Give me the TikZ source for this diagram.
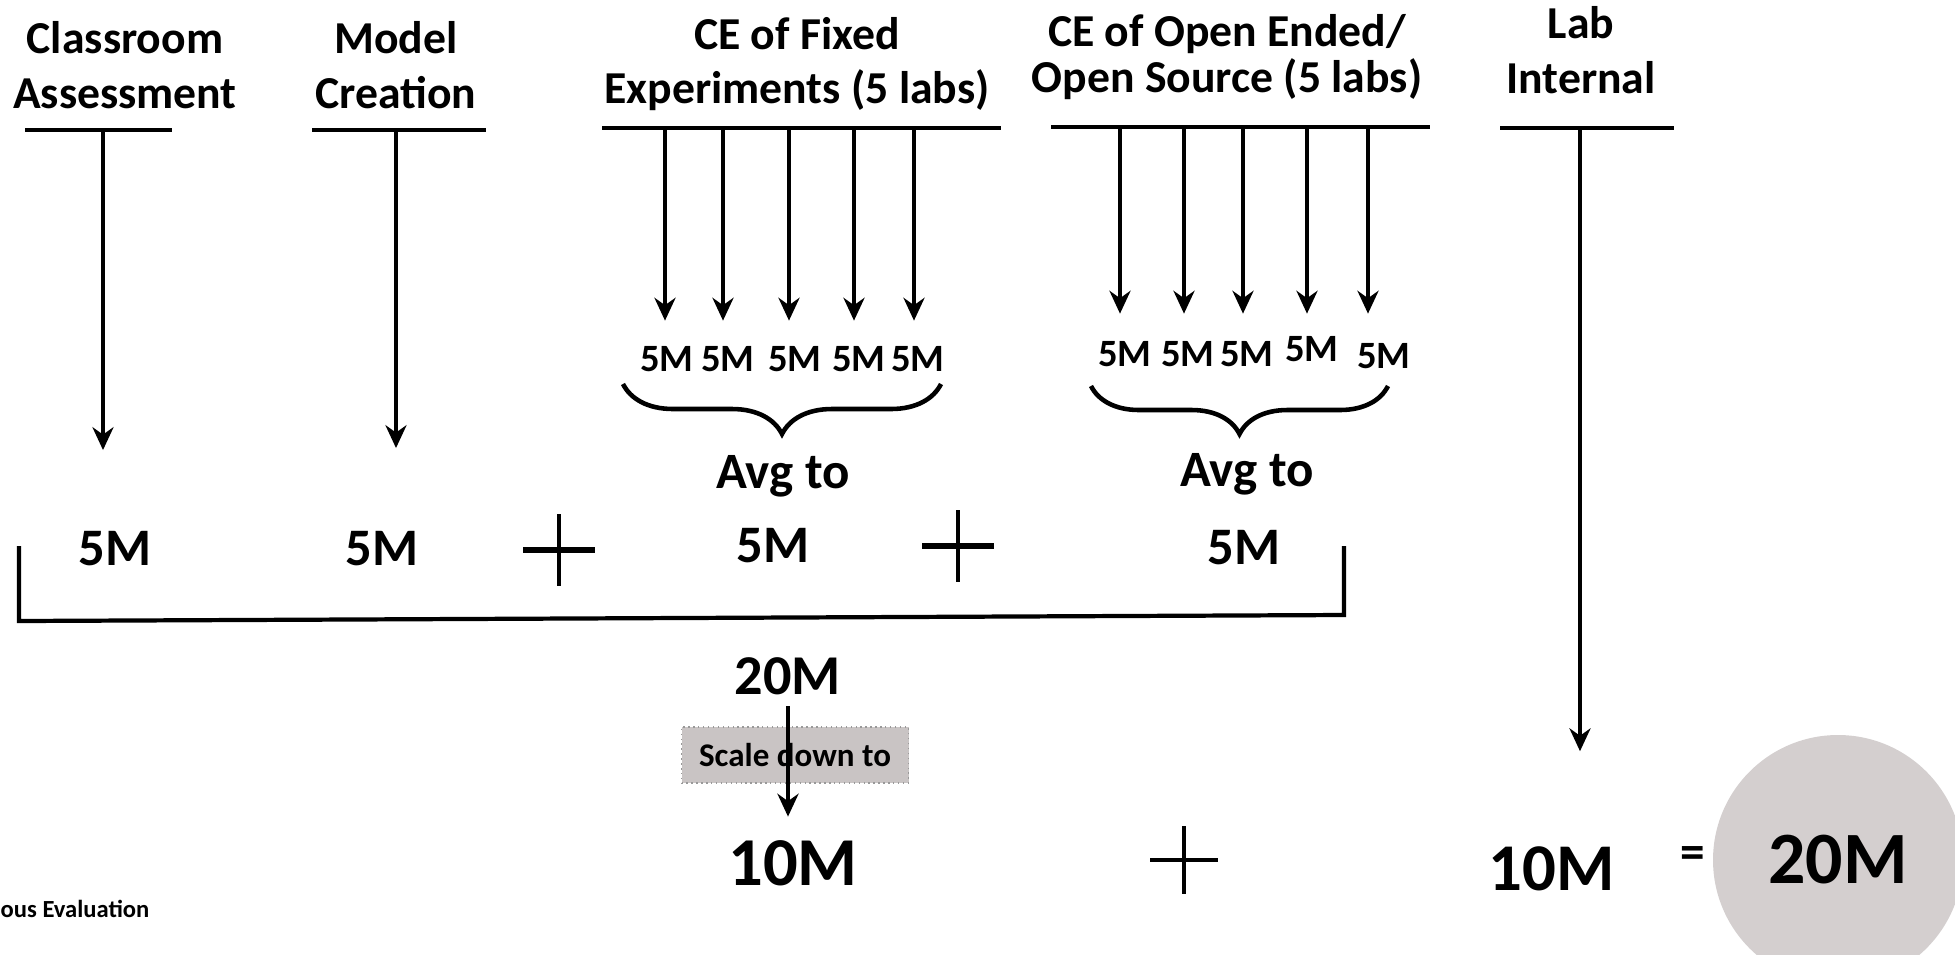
\documentclass[tikz,border=0pt]{standalone}
\usepackage{fontspec}
\setmainfont{Carlito}
\usepackage{tikz}
\usetikzlibrary{arrows.meta, decorations.pathreplacing, calc}
\definecolor{boxgray}{HTML}{C9C4C4}
\definecolor{circlegray}{HTML}{D4CFCF}
\tikzset{
	headnode/.style={
			align=center,
			inner sep=0pt,
			font=\fontsize{13}{15.5}\selectfont\bfseries
		},
	marknode/.style={
			inner sep=0pt,
			font=\fontsize{11}{13}\selectfont\bfseries
		},
	valuenode/.style={
			inner sep=0pt,
			font=\fontsize{15}{18}\selectfont\bfseries
		},
	bignode/.style={
			inner sep=0pt,
			font=\fontsize{19.5}{23}\selectfont\bfseries
		},
	plusnode/.style={
			shape=rectangle,
			minimum width=7mm,
			minimum height=7mm,
			inner sep=0pt
		},
	scalenode/.style={
			shape=rectangle,
			fill=boxgray,
			draw=gray!80,
			densely dotted,
			minimum width=22.7mm,
			minimum height=5.6mm,
			inner sep=0pt,
			font=\fontsize{9.4}{11}\selectfont\bfseries
		},
	totalnode/.style={
			circle,
			fill=circlegray,
			minimum size=25mm,
			inner sep=0pt,
			font=\fontsize{21}{25}\selectfont\bfseries
		}
}
\tikzset{
	bar/.style={line width=1.4pt},
	downarrow/.style={line width=1pt, -{Stealth[length=6.5pt,width=6pt]}},
	plusline/.style={line width=0.9pt},
	bracestyle/.style={line width=1.3pt, decorate, decoration={brace, amplitude=#1}}
}

\begin{document}
\begin{tikzpicture}[x=0.1mm, y=-0.1mm]
  \useasboundingbox (0,0) rectangle (1955,954);

  % headings
  \node[headnode] (h1) at (125,65) {Classroom\\Assessment};
  \node[headnode] (h2) at (396,65) {Model\\Creation};
  \node[headnode] (h3) at (797,64) {CE of Fixed\\Experiments (5 labs)};
  \node[headnode] (h4) at (1227,57) {CE of Open Ended/\\[-2.6pt]Open Source (5 labs)};
  \node[headnode] (h5) at (1581,50) {Lab\\Internal};

  % bars under the headings
  \draw[bar] (25,130) -- (172,130);
  \draw[bar] (312,130) -- (486,130);
  \draw[bar] (602,128) -- (1001,128);
  \draw[bar] (1051,127) -- (1430,127);
  \draw[bar] (1500,128) -- (1674,128);

  \coordinate (ca) at (103,130);
  \coordinate (mc) at (396,130);
  \coordinate (fa1) at (665,128);
  \coordinate (fa2) at (723,128);
  \coordinate (fa3) at (789,128);
  \coordinate (fa4) at (854,128);
  \coordinate (fa5) at (914,128);
  \coordinate (oa1) at (1120,127);
  \coordinate (oa2) at (1184,127);
  \coordinate (oa3) at (1243,127);
  \coordinate (oa4) at (1307,127);
  \coordinate (oa5) at (1368,127);
  \coordinate (li) at (1580,128);

  % marks of the labs
  \node[marknode] (f1) at (667,359) {5M};
  \node[marknode] (f2) at (728,359) {5M};
  \node[marknode] (f3) at (795,359) {5M};
  \node[marknode] (f4) at (859,359) {5M};
  \node[marknode] (f5) at (918,359) {5M};

  \node[marknode] (o1) at (1125,354) {5M};
  \node[marknode] (o2) at (1188,354) {5M};
  \node[marknode] (o3) at (1247,354) {5M};
  \node[marknode] (o4) at (1312,349) {5M};
  \node[marknode] (o5) at (1384,356) {5M};

  \draw[downarrow, shorten >=2.5mm] (fa1) -- (fa1 |- f1.north);
  \draw[downarrow, shorten >=2.5mm] (fa2) -- (fa2 |- f2.north);
  \draw[downarrow, shorten >=2.5mm] (fa3) -- (fa3 |- f3.north);
  \draw[downarrow, shorten >=2.5mm] (fa4) -- (fa4 |- f4.north);
  \draw[downarrow, shorten >=2.5mm] (fa5) -- (fa5 |- f5.north);

  \draw[downarrow, shorten >=2.7mm] (oa1) -- (oa1 |- o1.north);
  \draw[downarrow, shorten >=2.7mm] (oa2) -- (oa2 |- o2.north);
  \draw[downarrow, shorten >=2.7mm] (oa3) -- (oa3 |- o3.north);
  \draw[downarrow, shorten >=2.7mm] (oa4) -- (oa4 |- o3.north);
  \draw[downarrow, shorten >=2.7mm] (oa5) -- (oa5 |- o3.north);

  \draw[bracestyle=5mm] (941,384) -- (623,384);
  \draw[bracestyle=4.8mm] (1388,386) -- (1091,386);

  \node[valuenode, font=\fontsize{14.5}{17}\selectfont\bfseries] (avg1) at (783,476) {Avg to};
  \node[valuenode, font=\fontsize{14.5}{17}\selectfont\bfseries] (avg2) at (1247,474) {Avg to};

  % the 20 marks row
  \node[valuenode] (v1) at (115,549) {5M};
  \node[valuenode] (v2) at (382,549) {5M};
  \node[plusnode] (p1) at (559,550) {};
  \node[valuenode] (v3) at (773,546) {5M};
  \node[plusnode] (p2) at (958,546) {};
  \node[valuenode] (v4) at (1244,548) {5M};

  \draw[plusline] (p1.north) -- (p1.south);
  \draw[plusline, line width=1.5pt] (p1.west) -- (p1.east);
  \draw[plusline] (p2.north) -- (p2.south);
  \draw[plusline, line width=1.5pt] (p2.west) -- (p2.east);

  \draw[downarrow, shorten >=8.1mm] (ca) -- (ca |- v1.north);
  \draw[downarrow, shorten >=8.3mm] (mc) -- (mc |- v2.north);

  \draw[bar, line width=1.2pt] (19,546) -- (19,621) -- (1344,615) -- (1344,546);

  % scaling down
  \node[valuenode, font=\fontsize{16}{19}\selectfont\bfseries] (s20) at (788,676) {20M};
  \node[scalenode] (sc) at (795,755) {Scale down to};
  \node[bignode] (s10) at (793,863) {10M};
  \draw[downarrow, shorten <=1.1mm, shorten >=2.3mm] (s20.south) -- (s20.south |- s10.north);

  \node[plusnode, minimum width=6.6mm, minimum height=6.6mm] (p3) at (1184,860) {};
  \draw[plusline] (p3.north) -- (p3.south);
  \draw[plusline, line width=1.3pt] (p3.west) -- (p3.east);

  \node[bignode, font=\fontsize{19}{23}\selectfont\bfseries] (r10) at (1552,869) {10M};
  \draw[downarrow, shorten >=9.5mm] (li) -- (li |- r10.north);

  \node[valuenode, font=\fontsize{14}{17}\selectfont\bfseries] (eq) at (1693,858) {=};
  \node[totalnode] (tot) at (1838,860) {20M};

  \node[anchor=west, inner sep=0pt, font=\fontsize{7}{8}\selectfont\bfseries] (ce) at (0,909) {ous Evaluation};

\end{tikzpicture}
\end{document}
